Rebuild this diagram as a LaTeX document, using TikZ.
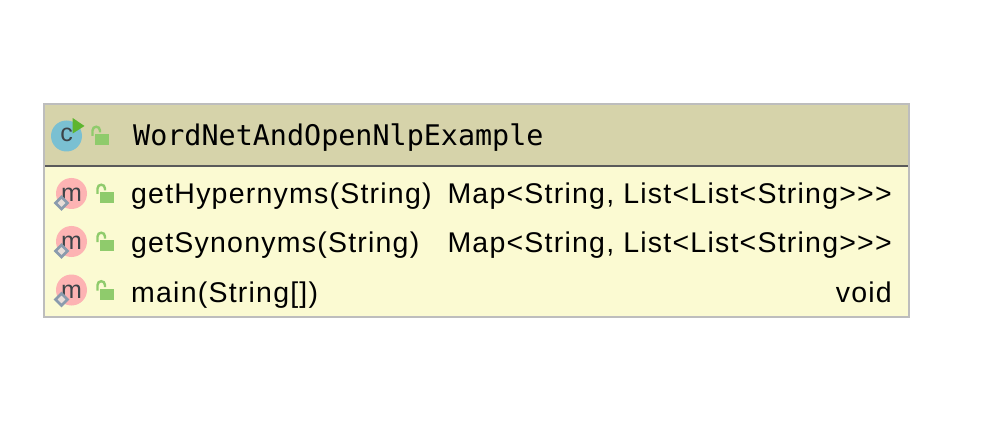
\documentclass[tikz,border=0pt]{standalone}
\usepackage{fontspec}
\setmainfont[LetterSpace=4.3]{Liberation Sans}
\newfontfamily\titlefont{DejaVu Sans Mono}
\newfontfamily\iconfont{Liberation Sans}
\definecolor{hdr}{HTML}{D6D3AA}
\definecolor{body}{HTML}{FBFAD2}
\definecolor{bdr}{HTML}{BDBDBD}
\definecolor{sep}{HTML}{5A5A5A}
\definecolor{cblue}{HTML}{7AC0D2}
\definecolor{mpink}{HTML}{FDB3B3}
\definecolor{lockg}{HTML}{8FCB6C}
\definecolor{playg}{HTML}{5DB52F}
\definecolor{dia}{HTML}{8A9BAD}
\definecolor{diain}{HTML}{E8DDD8}
\definecolor{ink}{HTML}{3C4348}
\tikzset{
  x=1pt,y=-1pt,
  rowtext/.style={inner sep=0pt,anchor=base west,font=\fontsize{28.5}{31}\selectfont,text=black},
  rowtype/.style={inner sep=0pt,anchor=base east,font=\fontsize{28.5}{31}\selectfont,text=black},
  titletext/.style={inner sep=0pt,anchor=base west,font=\titlefont\fontsize{28.4}{32}\selectfont,text=black},
  iconletter/.style={inner sep=0pt,anchor=base,text=ink,font=\iconfont\fontsize{25}{27}\selectfont},
  pics/lockicon/.style={code={
    \fill[lockg] (0,0) rectangle (14,11);
    \draw[lockg,line width=2.4pt] (-2.5,2) -- (-2.5,-3.5) .. controls (-2.5,-8.5) and (5,-8.5) .. (5,-3.5) -- (5,-1.5);
  }},
  pics/methodicon/.style={code={
    \fill[mpink] (0,0) circle (15.5);
    \node[iconletter] at (0,8) {m};
    \draw[dia,line width=2.8pt,fill=diain] (-10,3.5) -- (-4,9.5) -- (-10,15.5) -- (-16,9.5) -- cycle;
  }},
}
\begin{document}
\begin{tikzpicture}
\useasboundingbox (0,0) rectangle (992,438);
\fill[white] (0,0) rectangle (992,438);
\fill[hdr] (44,104) rectangle (908.5,166);
\fill[body] (44,166) rectangle (908.5,317);
\draw[sep,line width=2pt] (44,166) -- (908.5,166);
\draw[bdr,line width=2pt] (44,104) rectangle (908.5,317);
% class icon
\fill[cblue] (66.5,136) circle (15.5);
\node[iconletter] (cletter) at (66.5,142) {c};
\fill[playg] (72.7,118) -- (84.5,126) -- (72.7,133.5) -- cycle;
\pic at (95,134) {lockicon};
\node[titletext] (title) at (133,145.5) {WordNetAndOpenNlpExample};
% rows
\pic at (71.5,193.5) {methodicon};
\pic at (100,192) {lockicon};
\node[rowtext] (m1) at (131,204) {getHypernyms(String)};
\node[rowtype] (t1) at (892,204) {Map<String, List<List<String>{}>{}>};
\pic at (71.5,241.5) {methodicon};
\pic at (100,240) {lockicon};
\node[rowtext] (m2) at (131,252.5) {getSynonyms(String)};
\node[rowtype] (t2) at (892,252.5) {Map<String, List<List<String>{}>{}>};
\pic at (71.5,290) {methodicon};
\pic at (100,288.5) {lockicon};
\node[rowtext] (m3) at (131,302.5) {main(String[])};
\node[rowtype] (t3) at (892,302.5) {void};
\end{tikzpicture}
\end{document}
